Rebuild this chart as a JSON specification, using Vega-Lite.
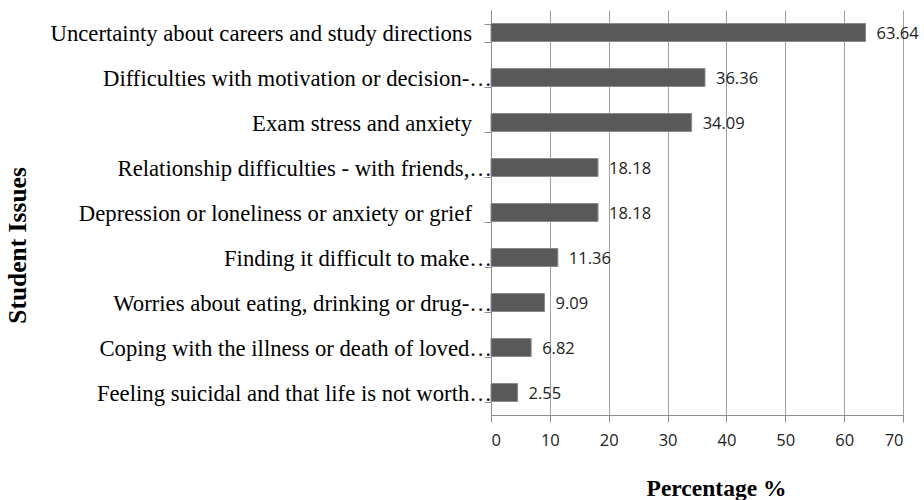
{
  "$schema": "https://vega.github.io/schema/vega-lite/v6.json",
  "width": 412,
  "height": 405,
  "autosize": "none",
  "padding": {"left": 491, "top": 10, "right": 21, "bottom": 85},
  "background": "white",
  "config": {"view": {"stroke": null}},
  "data": {
    "values": [
      {"issue": "Uncertainty about careers and study directions", "pct": 63.64, "label": "63.64", "truncated": false},
      {"issue": "Difficulties with motivation or decision-…", "pct": 36.36, "label": "36.36", "truncated": true},
      {"issue": "Exam stress and anxiety", "pct": 34.09, "label": "34.09", "truncated": false},
      {"issue": "Relationship difficulties - with friends,…", "pct": 18.18, "label": "18.18", "truncated": true},
      {"issue": "Depression or loneliness or anxiety or grief", "pct": 18.18, "label": "18.18", "truncated": false},
      {"issue": "Finding it difficult to make…", "pct": 11.36, "label": "11.36", "truncated": true},
      {"issue": "Worries about eating, drinking or drug-…", "pct": 9.09, "label": "9.09", "truncated": true},
      {"issue": "Coping with the illness or death of loved…", "pct": 6.82, "label": "6.82", "truncated": true},
      {"issue": "Feeling suicidal and that life is not worth…", "pct": 4.5, "label": "2.55", "truncated": true}
    ]
  },
  "encoding": {
    "y": {
      "field": "issue",
      "type": "nominal",
      "sort": null,
      "scale": {"paddingInner": 0.6, "paddingOuter": 0.3},
      "axis": {
        "title": "Student Issues",
        "titleFont": "Liberation Serif",
        "titleFontSize": 25.5,
        "titleFontWeight": "bold",
        "titleColor": "#000000",
        "titleX": -474,
        "titleY": 235,
        "titleAngle": -90,
        "titleAlign": "center",
        "titleBaseline": "middle",
        "labels": false,
        "tickBand": "extent",
        "tickSize": 7,
        "tickColor": "#8c8c8c",
        "domainColor": "#8c8c8c",
        "grid": false
      }
    }
  },
  "layer": [
    {
      "mark": {"type": "bar", "fill": "#595959", "stroke": "#8a8a8a", "strokeWidth": 1},
      "encoding": {
        "x": {
          "field": "pct",
          "type": "quantitative",
          "scale": {"domain": [0, 70], "nice": false},
          "axis": {
            "values": [0, 10, 20, 30, 40, 50, 60, 70],
            "title": "Percentage %",
            "titleFont": "Liberation Serif",
            "titleFontSize": 23.5,
            "titleFontWeight": "bold",
            "titleColor": "#000000",
            "titleX": 225,
            "titleY": 80,
            "titleAlign": "center",
            "titleBaseline": "alphabetic",
            "labelFont": "Open Sans",
            "labelFontSize": 16.5,
            "labelColor": "#222222",
            "labelPadding": 10,
            "tickSize": 7,
            "tickColor": "#8c8c8c",
            "domainColor": "#8c8c8c",
            "grid": true,
            "gridColor": "#a0a0a0",
            "gridWidth": 1
          }
        }
      }
    },
    {
      "mark": {"type": "text", "align": "left", "baseline": "middle", "dx": 11, "dy": 1, "font": "Open Sans", "fontSize": 16.5, "color": "#222222"},
      "encoding": {
        "x": {"field": "pct", "type": "quantitative"},
        "text": {"field": "label", "type": "nominal"}
      }
    },
    {
      "transform": [{"filter": "datum.truncated"}],
      "mark": {"type": "text", "align": "right", "baseline": "middle", "dx": 1, "dy": 1, "font": "Liberation Serif", "fontSize": 22.7, "color": "#000000"},
      "encoding": {
        "x": {"datum": 0, "type": "quantitative"},
        "text": {"field": "issue", "type": "nominal"}
      }
    },
    {
      "transform": [{"filter": "!datum.truncated"}],
      "mark": {"type": "text", "align": "right", "baseline": "middle", "dx": -19, "dy": 1, "font": "Liberation Serif", "fontSize": 22.7, "color": "#000000"},
      "encoding": {
        "x": {"datum": 0, "type": "quantitative"},
        "text": {"field": "issue", "type": "nominal"}
      }
    }
  ]
}
